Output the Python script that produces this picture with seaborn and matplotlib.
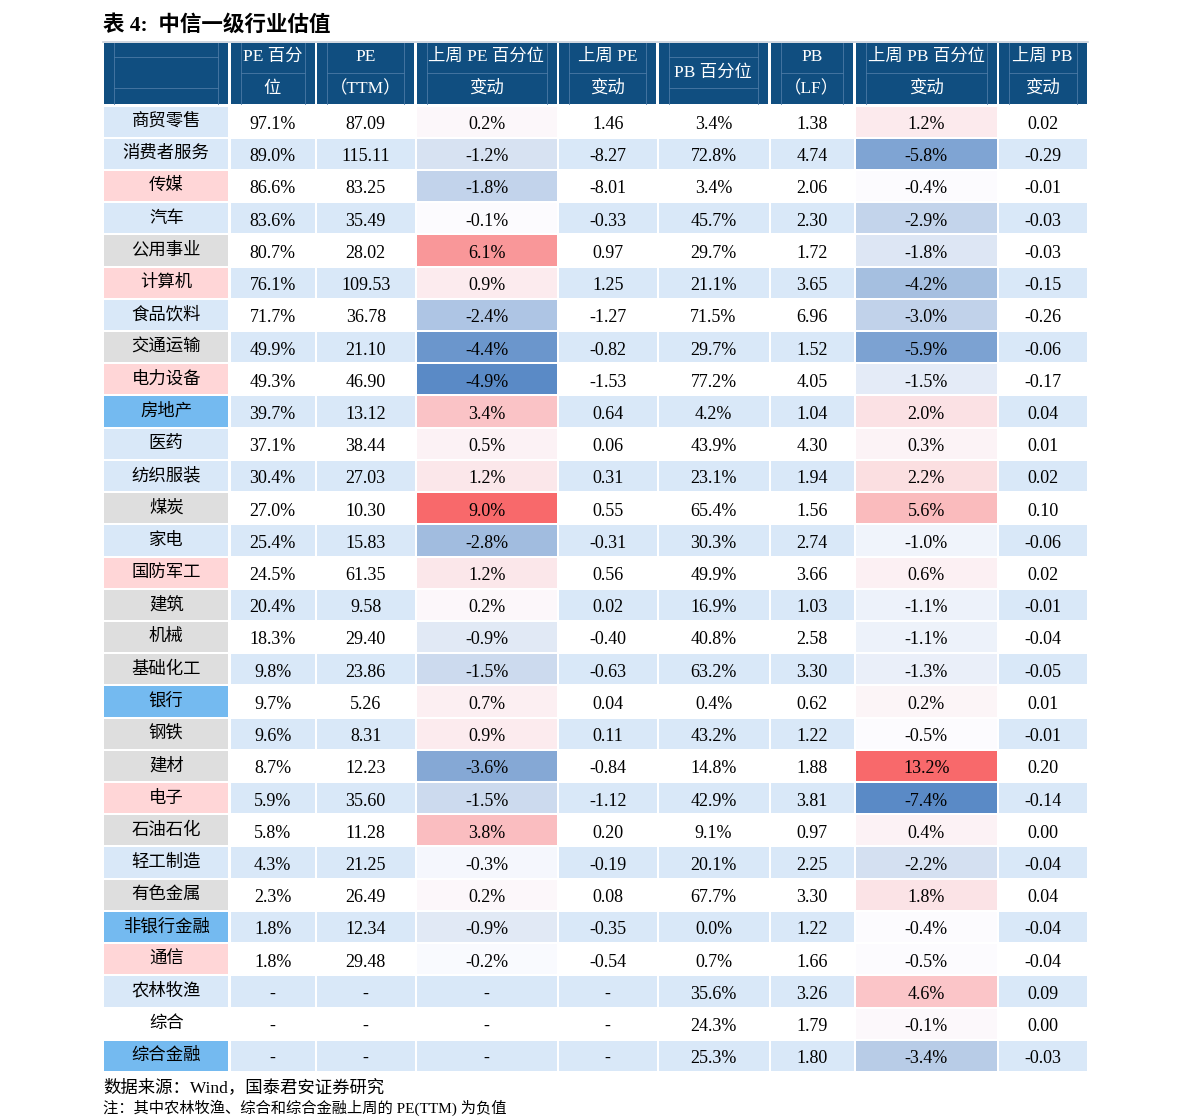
import numpy as np
import matplotlib
matplotlib.use("Agg")
import matplotlib.pyplot as plt
from matplotlib.colors import ListedColormap, LinearSegmentedColormap, TwoSlopeNorm
from matplotlib.patches import Rectangle
import seaborn as sns

# 数据
industries = ["商贸零售", "消费者服务", "传媒", "汽车", "公用事业", "计算机", "食品饮料",
              "交通运输", "电力设备", "房地产", "医药", "纺织服装", "煤炭", "家电",
              "国防军工", "建筑", "机械", "基础化工", "银行", "钢铁", "建材", "电子",
              "石油石化", "轻工制造", "有色金属", "非银行金融", "通信", "农林牧渔",
              "综合", "综合金融"]
# 行业名称底色: 0 浅蓝, 1 粉, 2 灰, 3 亮蓝, 4 白
name_group = [0, 0, 1, 0, 2, 1, 0, 2, 1, 3, 0, 0, 2, 0, 1, 2, 2, 2, 3, 2, 2, 1, 2, 0, 2, 3, 1, 0, 4, 3]
nan = np.nan
pe_pct = [97.1, 89.0, 86.6, 83.6, 80.7, 76.1, 71.7, 49.9, 49.3, 39.7, 37.1, 30.4, 27.0, 25.4, 24.5,
          20.4, 18.3, 9.8, 9.7, 9.6, 8.7, 5.9, 5.8, 4.3, 2.3, 1.8, 1.8, nan, nan, nan]
pe_ttm = [87.09, 115.11, 83.25, 35.49, 28.02, 109.53, 36.78, 21.10, 46.90, 13.12, 38.44, 27.03,
          10.30, 15.83, 61.35, 9.58, 29.40, 23.86, 5.26, 8.31, 12.23, 35.60, 11.28, 21.25, 26.49,
          12.34, 29.48, nan, nan, nan]
pe_pct_chg = [0.2, -1.2, -1.8, -0.1, 6.1, 0.9, -2.4, -4.4, -4.9, 3.4, 0.5, 1.2, 9.0, -2.8, 1.2,
              0.2, -0.9, -1.5, 0.7, 0.9, -3.6, -1.5, 3.8, -0.3, 0.2, -0.9, -0.2, nan, nan, nan]
pe_chg = [1.46, -8.27, -8.01, -0.33, 0.97, 1.25, -1.27, -0.82, -1.53, 0.64, 0.06, 0.31, 0.55,
          -0.31, 0.56, 0.02, -0.40, -0.63, 0.04, 0.11, -0.84, -1.12, 0.20, -0.19, 0.08, -0.35,
          -0.54, nan, nan, nan]
pb_pct = [3.4, 72.8, 3.4, 45.7, 29.7, 21.1, 71.5, 29.7, 77.2, 4.2, 43.9, 23.1, 65.4, 30.3, 49.9,
          16.9, 40.8, 63.2, 0.4, 43.2, 14.8, 42.9, 9.1, 20.1, 67.7, 0.0, 0.7, 35.6, 24.3, 25.3]
pb_lf = [1.38, 4.74, 2.06, 2.30, 1.72, 3.65, 6.96, 1.52, 4.05, 1.04, 4.30, 1.94, 1.56, 2.74, 3.66,
         1.03, 2.58, 3.30, 0.62, 1.22, 1.88, 3.81, 0.97, 2.25, 3.30, 1.22, 1.66, 3.26, 1.79, 1.80]
pb_pct_chg = [1.2, -5.8, -0.4, -2.9, -1.8, -4.2, -3.0, -5.9, -1.5, 2.0, 0.3, 2.2, 5.6, -1.0, 0.6,
              -1.1, -1.1, -1.3, 0.2, -0.5, 13.2, -7.4, 0.4, -2.2, 1.8, -0.4, -0.5, 4.6, -0.1, -3.4]
pb_chg = [0.02, -0.29, -0.01, -0.03, -0.03, -0.15, -0.26, -0.06, -0.17, 0.04, 0.01, 0.02, 0.10,
          -0.06, 0.02, -0.01, -0.04, -0.05, 0.01, -0.01, 0.20, -0.14, 0.00, -0.04, 0.04, -0.04,
          -0.04, 0.09, 0.00, -0.03]

headers = [[""], ["PE 百分", "位"], ["PE", "（TTM）"], ["上周 PE 百分位", "变动"],
           ["上周 PE", "变动"], ["PB 百分位"], ["PB", "（LF）"], ["上周 PB 百分位", "变动"],
           ["上周 PB", "变动"]]
title = "表 4:  中信一级行业估值"
source = "数据来源：Wind，国泰君安证券研究"
note = "注：其中农林牧渔、综合和综合金融上周的 PE(TTM) 为负值"

# 样式
W, H = 1191, 1118
col_edges = [103, 229.5, 316, 415.5, 558, 657.5, 769.5, 854.5, 998, 1088]
head_top, head_bot = 42.5, 104
body_top, body_bot = 105.5, 1072
head_color = "#104e80"
head_line = "#4b7aa6"
stripe_blue = "#d9e8f8"
name_cmap = ListedColormap(["#d9e8f8", "#ffd6d7", "#dedede", "#74baf0", "#ffffff"])
stripe_cmap = ListedColormap(["#ffffff", stripe_blue])
excel_cmap = LinearSegmentedColormap.from_list("excel3", ["#5a8ac6", "#fcfcff", "#f8696b"])
serif_cjk = ["Liberation Serif", "Noto Sans CJK SC"]
lw = 1.4
num_shift = 0.09   # 数字略向下, 行高单位
name_shift = -0.02


def fmt_pct(v):
    return "-" if np.isnan(v) else f"{v:.1f}%"


def fmt_num(v):
    return "-" if np.isnan(v) else f"{v:.2f}"


columns = [
    ("name", industries, str),
    ("plain", pe_pct, fmt_pct),
    ("plain", pe_ttm, fmt_num),
    ("heat", pe_pct_chg, fmt_pct),
    ("plain", pe_chg, fmt_num),
    ("plain", pb_pct, fmt_pct),
    ("plain", pb_lf, fmt_num),
    ("heat", pb_pct_chg, fmt_pct),
    ("plain", pb_chg, fmt_num),
]

fig = plt.figure(figsize=(W / 100, H / 100), dpi=100)
bg = fig.add_axes([0, 0, 1, 1])
bg.set_xlim(0, W)
bg.set_ylim(H, 0)
bg.axis("off")

# 标题
bg.text(103, 25, title, family=serif_cjk, fontsize=15.5, fontweight="bold", va="center", ha="left")

# 表头
bg.plot([103, 1088], [head_top - 0.5, head_top - 0.5], color="#c8d0da", lw=1.2)
for j, lines in enumerate(headers):
    x0, x1 = col_edges[j] + 1, col_edges[j + 1] - 1.5
    bg.add_patch(Rectangle((x0, head_top), x1 - x0, head_bot - head_top, color=head_color, lw=0))
    # 合并单元格留下的细线
    bg.plot([x0 + 10, x0 + 10], [head_top, head_bot], color=head_line, lw=0.6)
    bg.plot([x1 - 10, x1 - 10], [head_top, head_bot], color=head_line, lw=0.6)
    if len(lines) == 2:
        bg.plot([x0 + 10, x1 - 10], [73, 73], color=head_line, lw=0.6)
    else:
        bg.plot([x0 + 10, x1 - 10], [57, 57], color=head_line, lw=0.6)
        bg.plot([x0 + 10, x1 - 10], [88, 88], color=head_line, lw=0.6)
    xc = (x0 + x1) / 2
    ys = [57, 89] if len(lines) == 2 else [72.5]
    for txt, y in zip(lines, ys):
        bg.text(xc, y, txt, family=serif_cjk, fontsize=12.5, color="white",
                ha="center", va="center")

# 表体
stripes = np.array([i % 2 for i in range(len(industries))]).reshape(-1, 1)
for j, (kind, vals, fmt) in enumerate(columns):
    x0, x1 = col_edges[j], col_edges[j + 1]
    ax = fig.add_axes([x0 / W, 1 - body_bot / H, (x1 - x0) / W, (body_bot - body_top) / H])
    labels = np.array([fmt(v) for v in vals]).reshape(-1, 1)
    common = dict(ax=ax, cbar=False, linewidths=lw, linecolor="white",
                  xticklabels=False, yticklabels=False)
    if kind == "name":
        sns.heatmap(np.array(name_group).reshape(-1, 1), cmap=name_cmap, vmin=-0.5, vmax=4.5,
                    annot=labels, fmt="",
                    annot_kws={"family": "Noto Sans CJK SC", "size": 12.5, "color": "black"},
                    **common)
        shift = name_shift
    else:
        sns.heatmap(stripes, cmap=stripe_cmap, vmin=-0.5, vmax=1.5, annot=labels, fmt="",
                    annot_kws={"family": "Liberation Serif", "size": 13, "color": "black"},
                    **common)
        if kind == "heat":
            arr = np.array(vals, dtype=float).reshape(-1, 1)
            norm = TwoSlopeNorm(vmin=np.nanmin(arr), vcenter=np.nanmedian(arr),
                                vmax=np.nanmax(arr))
            sns.heatmap(arr, mask=np.isnan(arr), cmap=excel_cmap, norm=norm, **common)
        shift = num_shift
    for t in ax.texts:
        t.set_y(t.get_position()[1] + shift)
    ax.set_xlabel("")
    ax.set_ylabel("")

# 脚注
bg.text(103, 1088, source, family=serif_cjk, fontsize=12.5, va="center", ha="left")
bg.text(103, 1116, note, family=serif_cjk, fontsize=11, va="bottom", ha="left")

fig.savefig("out.png", dpi=100)
